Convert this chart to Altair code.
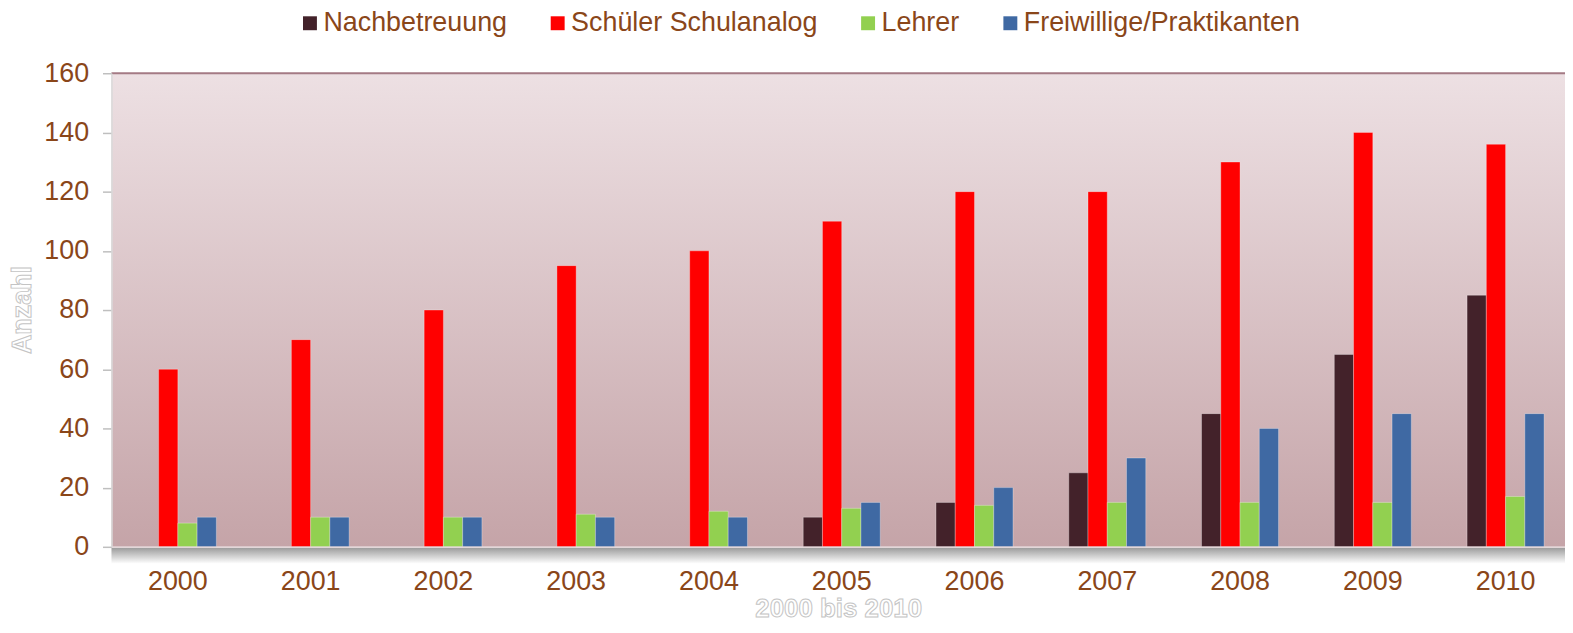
import altair as alt
import pandas as pd

years = ["2000", "2001", "2002", "2003", "2004", "2005", "2006", "2007", "2008", "2009", "2010"]
series = ["Nachbetreuung", "Schüler Schulanalog", "Lehrer", "Freiwillige/Praktikanten"]
colors = ["#43222A", "#FF0000", "#92D050", "#3F69A3"]
nachbetreuung = [0, 0, 0, 0, 0, 10, 15, 25, 45, 65, 85]
schueler = [60, 70, 80, 95, 100, 110, 120, 120, 130, 140, 136]
lehrer = [8, 10, 10, 11, 12, 13, 14, 15, 15, 15, 17]
freiwillige = [10, 10, 10, 10, 10, 15, 20, 30, 40, 45, 45]
y_ticks = [0, 20, 40, 60, 80, 100, 120, 140, 160]

rows = []
for name, vals in zip(series, [nachbetreuung, schueler, lehrer, freiwillige]):
    for yr, v in zip(years, vals):
        rows.append({"Jahr": yr, "Serie": name, "Wert": v})
df = pd.DataFrame(rows)
one = pd.DataFrame({"a": [0]})

W = 1461
H = 476
FULLW = 1468
FONT = "Liberation Sans"
BROWN = "#8A4619"

bg = alt.Chart(one).mark_rect(
    color=alt.LinearGradient(
        gradient="linear",
        stops=[alt.GradientStop(color="#EDE0E3", offset=0),
               alt.GradientStop(color="#C5A4A8", offset=1)],
        x1=0, x2=0, y1=0, y2=1,
    )
).encode(x=alt.value(0), x2=alt.value(FULLW), y=alt.value(0), y2=alt.value(H))

shadow = alt.Chart(one).mark_rect(
    color=alt.LinearGradient(
        gradient="linear",
        stops=[alt.GradientStop(color="#9C9C9C", offset=0),
               alt.GradientStop(color="#FFFFFF", offset=1)],
        x1=0, x2=0, y1=0, y2=1,
    )
).encode(x=alt.value(0), x2=alt.value(FULLW), y=alt.value(H + 1), y2=alt.value(H + 17))

topline = alt.Chart(one).mark_rule(color="#A47A84", strokeWidth=2).encode(
    x=alt.value(0), x2=alt.value(FULLW), y=alt.value(0)
)

bars = alt.Chart(df).transform_filter("datum.Wert > 0").mark_bar(
    stroke="#FFFFFF", strokeOpacity=0.3, strokeWidth=1
).encode(
    x=alt.X("Jahr:N", sort=years,
            scale=alt.Scale(paddingInner=0.42, paddingOuter=0.21, range=[0, FULLW]),
            axis=alt.Axis(title=None, ticks=False, labelAngle=0, labelPadding=22,
                          domainColor="#E2D6D8", domainWidth=1.5, zindex=1)),
    xOffset=alt.XOffset("Serie:N", sort=series, scale=alt.Scale(paddingInner=0, paddingOuter=0)),
    y=alt.Y("Wert:Q", scale=alt.Scale(domain=[0, 160], nice=False),
            axis=alt.Axis(title=None, values=y_ticks, grid=False, tickSize=9, tickColor="#BFBFBF",
                          tickWidth=1.5, labelPadding=14, domainColor="#D9D9D9", domainWidth=1.5,
                          zindex=1)),
    color=alt.Color("Serie:N", sort=series, scale=alt.Scale(domain=series, range=colors),
                    legend=alt.Legend(title=None, orient="none", legendX=186, legendY=-64,
                                      direction="horizontal", symbolType="square", symbolSize=196,
                                      symbolStrokeWidth=0, labelFontSize=27, labelColor=BROWN,
                                      labelFont=FONT, labelOffset=0, columnPadding=37,
                                      labelLimit=500)),
)

ytitle = alt.Chart(one).mark_text(
    text="Anzahl", angle=270, font=FONT, fontSize=27, fontWeight="bold",
    fill="#FFFFFF", stroke="#C4C4C4", strokeWidth=1, align="center", baseline="middle"
).encode(x=alt.value(-89), y=alt.value(238))

xtitle = alt.Chart(one).mark_text(
    text="2000 bis 2010", font=FONT, fontSize=26, fontWeight="bold",
    fill="#FFFFFF", stroke="#C4C4C4", strokeWidth=1, align="center", baseline="alphabetic"
).encode(x=alt.value(731), y=alt.value(547))

chart = alt.layer(bg, shadow, bars, topline, ytitle, xtitle).properties(
    width=W, height=H,
    autosize=alt.AutoSizeParams(type="none"),
    padding={"left": 104, "top": 64, "right": 0, "bottom": 77},
).configure_view(stroke=None).configure_axis(
    labelFont=FONT, labelFontSize=27, labelColor=BROWN
)

chart.save("out.html", embed_options={"renderer": "svg", "actions": False})
